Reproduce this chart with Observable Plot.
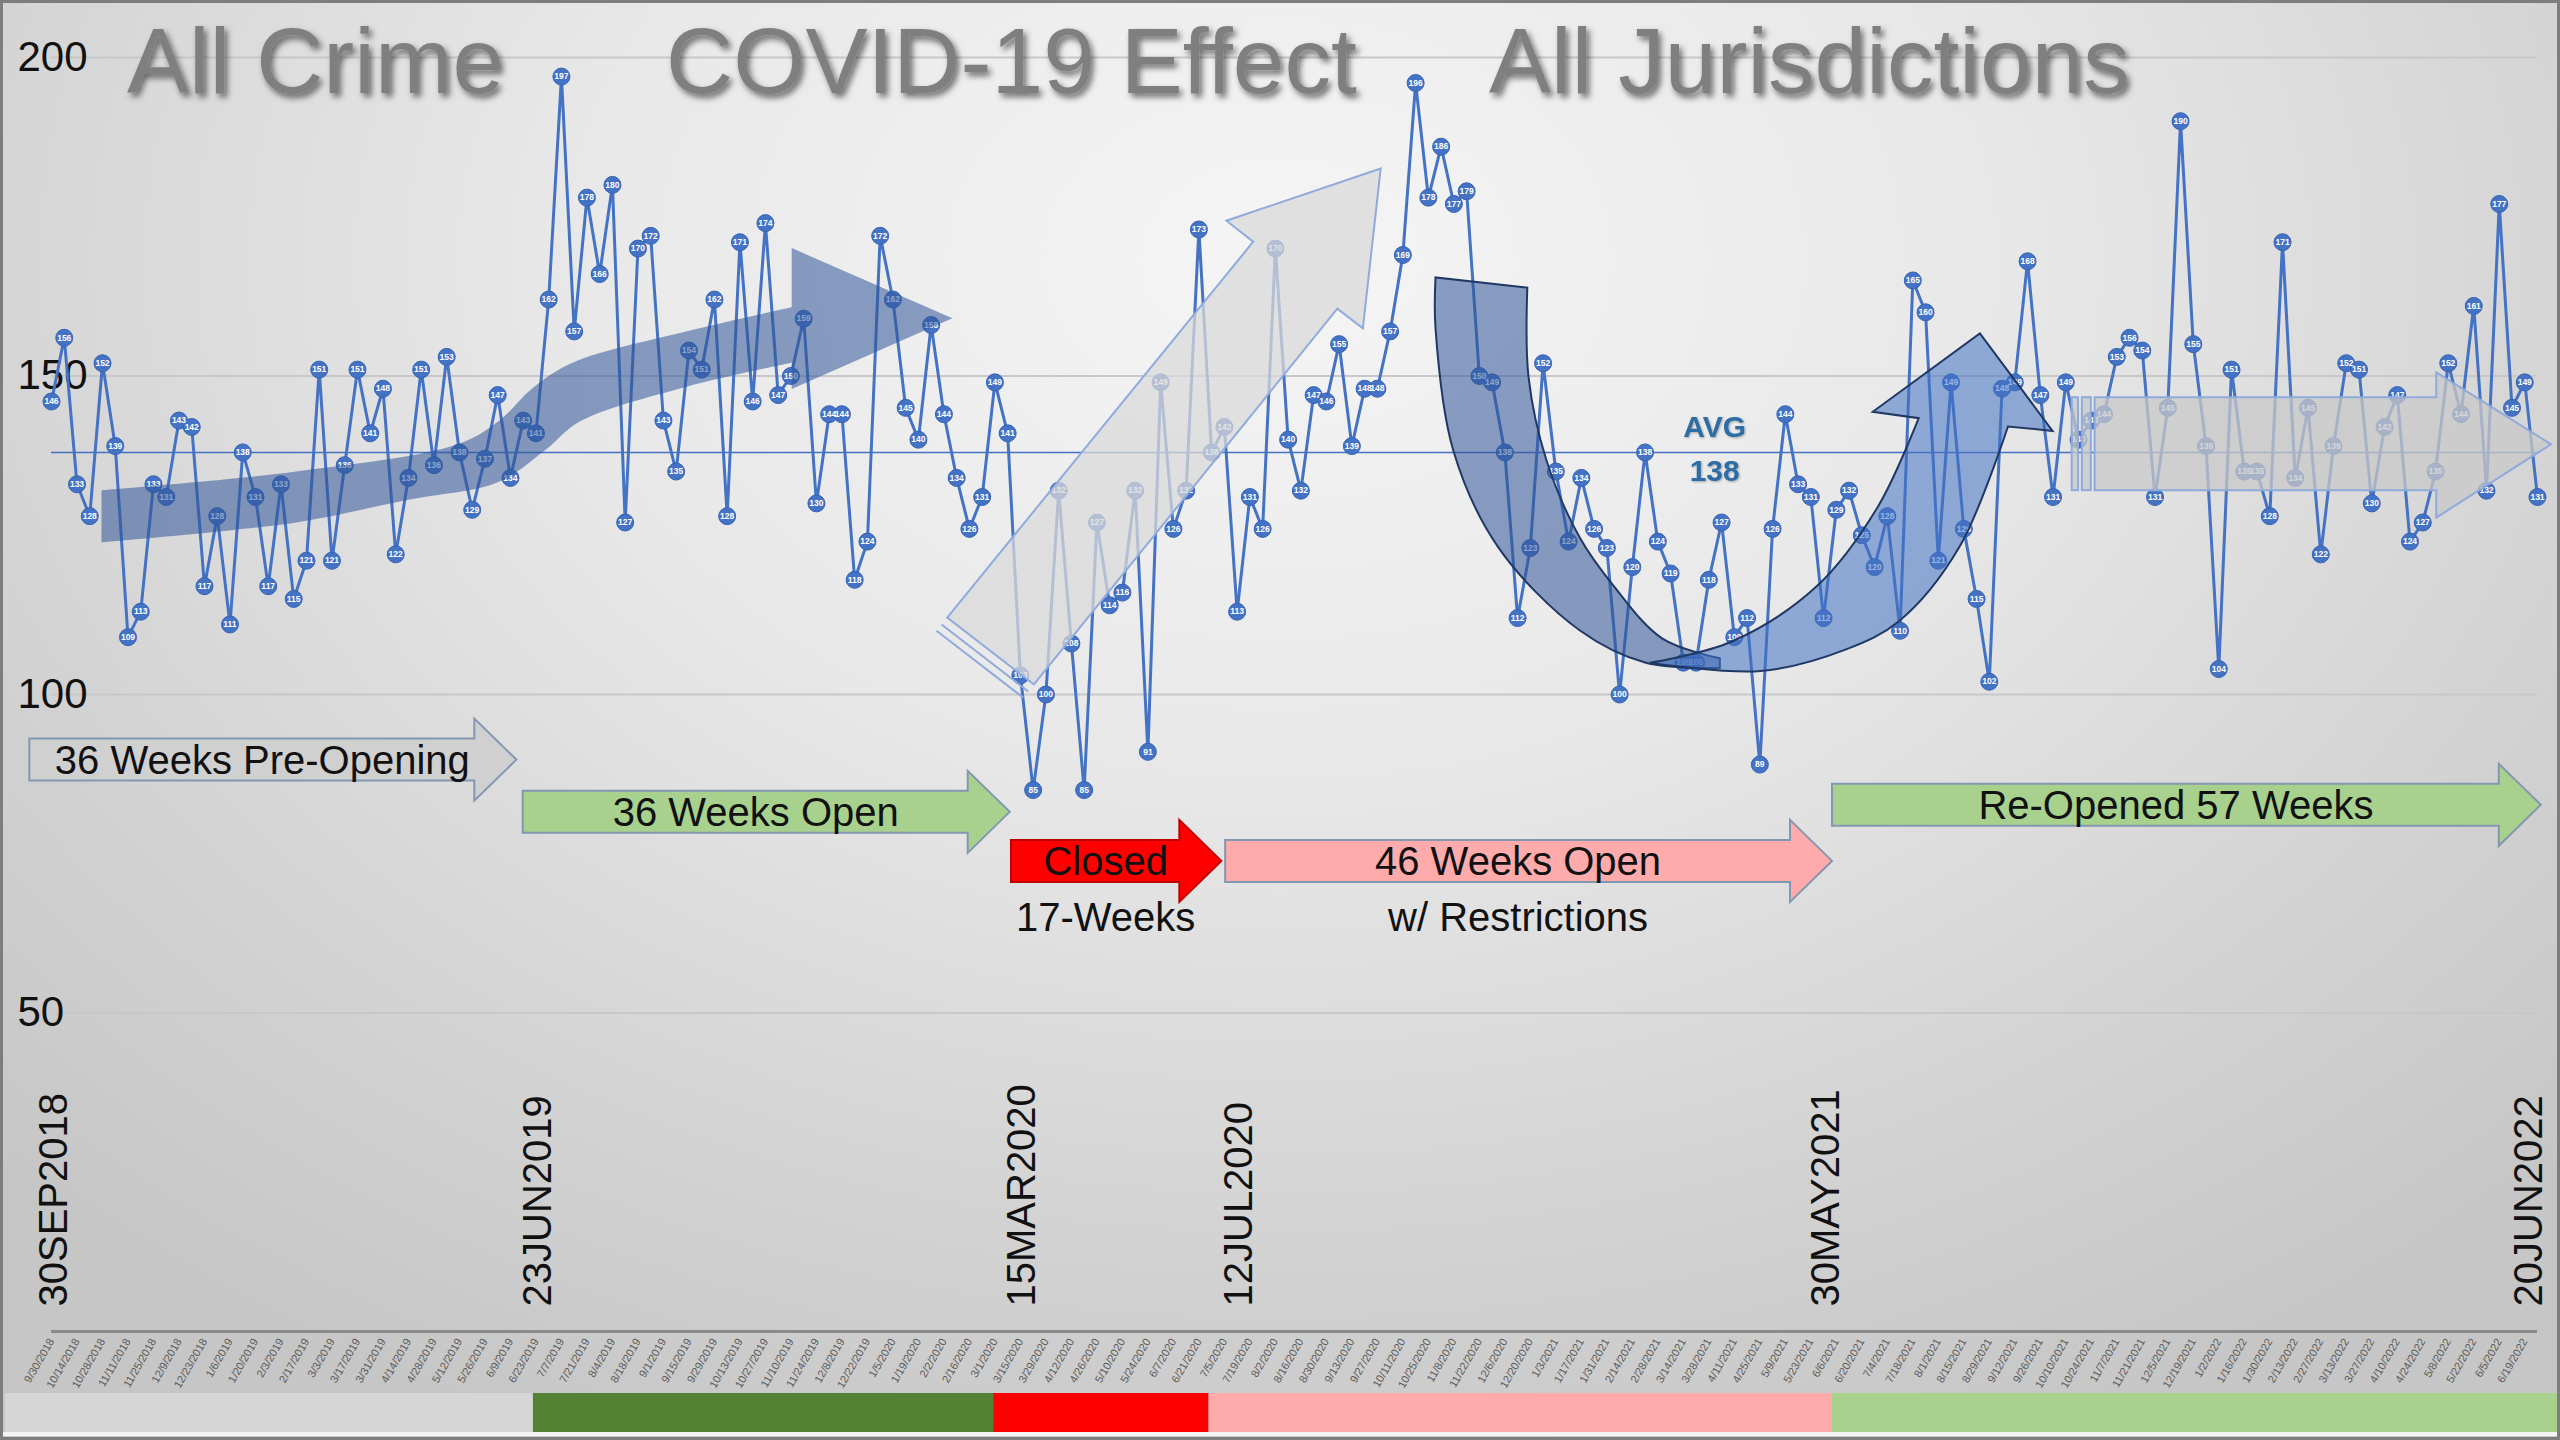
<!DOCTYPE html>
<html><head><meta charset="utf-8">
<script src="https://cdn.jsdelivr.net/npm/d3@7"></script>
<script src="https://cdn.jsdelivr.net/npm/@observablehq/plot@0.6"></script>
<style>
html,body{margin:0;padding:0;}
body{width:2560px;height:1440px;overflow:hidden;background:#d4d4d4;}
#wrap{position:relative;width:2560px;height:1440px;
 background: radial-gradient(ellipse 70% 90% at 50% 18%, #f5f5f5 0%, #e8e8e8 40%, #d3d3d3 75%, #c6c6c6 100%);}
#frame{position:absolute;left:0;top:0;width:2560px;height:1440px;box-sizing:border-box;border:3px solid #7d7d7d;pointer-events:none;}
svg{display:block;}
</style></head><body><div id="wrap"><div id="frame"></div></div>
<script>
// ---------- data ----------
const startDate = "2018-09-30";           // first weekly observation
const crimeCounts = [
146,156,133,128,152,139,109,113,133,131,
143,142,117,128,111,138,131,117,133,115,
121,151,121,136,151,141,148,122,134,151,
136,153,138,129,137,147,134,143,141,162,
197,157,178,166,180,127,170,172,143,135,
154,151,162,128,171,146,174,147,150,159,
130,144,144,118,124,172,162,145,140,158,
144,134,126,131,149,141,103,85,100,132,
108,85,127,114,116,132,91,149,126,132,
173,138,142,113,131,126,170,140,132,147,
146,155,139,148,148,157,169,196,178,186,
177,179,150,149,138,112,123,152,135,124,
134,126,123,100,120,138,124,119,105,105,
118,127,109,112,89,126,144,133,131,112,
129,132,125,120,128,110,165,160,121,149,
126,115,102,148,149,168,147,131,149,140,
143,144,153,156,154,131,145,190,155,139,
104,151,135,135,128,171,134,145,122,139,
152,151,130,142,147,124,127,135,152,144,
161,132,177,145,149,131
];
const avgValue = 138;
const avgLabelWeek = 130.5;
const yTicks = [50, 100, 150, 200];
const titleParts = ["All Crime", "COVID-19 Effect", "All Jurisdictions"];
const milestoneLabels = ["30SEP2018", "23JUN2019", "15MAR2020", "12JUL2020", "30MAY2021", "20JUN2022"];
const milestoneDates = ["2018-09-30", "2019-06-23", "2020-03-15", "2020-07-12", "2021-05-30", "2022-06-20"];

// phase arrows (weeks since start, level in chart units)
const phaseText = ["36 Weeks Pre-Opening", "36 Weeks Open", "Closed", "46 Weeks Open", "Re-Opened 57 Weeks"];
const phaseSubText = ["", "", "17-Weeks", "w/ Restrictions", ""];
const phaseStartWeek = [-1.7, 37.0, 75.3, 92.1, 139.7];
const phaseEndWeek = [36.5, 75.2, 91.8, 139.7, 195.3];
const phaseLevel = [89.7, 81.5, 73.8, 73.8, 82.6];
// bottom status band boundaries (weeks since start)
const bandBoundaryWeeks = [37.8, 73.9, 90.8, 139.7];

// trend overlay shapes: [week, level]  (edge / head / edge)
const risingUpper = [[3.96,132.0],[19.1,134.9],[31.9,139.2],[35.1,142.8],[37.7,147.9],[40.9,152.0],[49.8,156.9],[58.1,160.7]];
const risingHead = [[58.1,170.0],[70.7,159.0],[58.1,147.9]];
const risingLower = [[58.1,152.0],[49.8,148.2],[41.5,142.8],[38.9,138.5],[35.1,133.3],[28.0,130.5],[19.1,126.9],[3.96,123.8]];
const reboundArrow = [[70.3,112.0],[94.3,171.0],[92.2,174.3],[104.3,182.5],[102.9,157.4],[100.9,160.5],[77.1,101.5]];
const dropOuter = [[108.6,165.4],[108.6,157.4],[110.0,138.2],[113.5,123.1],[119.9,110.0],[125.1,104.9],[130.9,104.1]];
const dropInner = [[130.9,105.6],[126.4,108.7],[122.6,116.9],[119.9,124.6],[117.3,136.7],[115.9,149.7],[115.8,163.8]];
const recoverOuter = [[125.4,104.9],[134.1,103.6],[140.8,107.0],[145.0,111.5],[149.7,123.1],[153.5,142.0]];
const recoverHead = [[157.0,141.3],[151.3,156.6],[142.9,144.3]];
const recoverInner = [[146.5,143.3],[143.3,129.4],[138.5,116.9],[131.8,108.2],[125.4,104.9]];
const flatArrow = [[160.3,146.6],[187.1,146.6],[187.1,150.5],[196.1,139.2],[187.1,127.7],[187.1,132.0],[160.3,132.0]];
const flatStripes = [[158.5,159.0],[159.3,160.0]];

// ---------- styles ----------
const FONT = "'Liberation Sans', Arial, sans-serif";
const BLUE = "#4472c4";
const phaseStyle = [
  {fill: "#d0d0d0", stroke: "#8497b0"},
  {fill: "#a9d18e", stroke: "#8497b0"},
  {fill: "#ff0000", stroke: "#c00000"},
  {fill: "#ffabab", stroke: "#8497b0"},
  {fill: "#a9d18e", stroke: "#8497b0"}
];
const bandColors = ["#d6d6d6", "#548235", "#ff0000", "#ffabab", "#a9d18e"];

// ---------- build ----------
const t0 = new Date(startDate + "T00:00:00Z").getTime();
const weekDate = w => new Date(t0 + w * 7 * 864e5);
const parseDate = s => new Date(s + "T00:00:00Z");
const rows = crimeCounts.map((v, i) => ({date: weekDate(i), value: v}));
const tickDates = rows.filter((d, i) => i % 2 === 0).map(d => d.date);
const milestones = milestoneLabels.map((l, i) => ({label: l, date: parseDate(milestoneDates[i])}));

const W = 2560, H = 1440;
const chart = Plot.plot({
  width: W, height: H,
  marginLeft: 51, marginRight: 23, marginTop: 57, marginBottom: 109,
  style: {background: "transparent", fontFamily: FONT, overflow: "visible"},
  x: {type: "utc", domain: [weekDate(0), weekDate(crimeCounts.length - 1)], axis: null},
  y: {domain: [0, 200], axis: null},
  marks: [
    Plot.ruleY(yTicks, {stroke: "#c8c8c8", strokeWidth: 2}),
    Plot.ruleY([avgValue], {stroke: BLUE, strokeWidth: 1.5}),
    Plot.ruleY([0], {stroke: "#8a8a8a", strokeWidth: 3}),
    Plot.axisX({ticks: tickDates, tickFormat: d3.utcFormat("%-m/%-d/%Y"), tickRotate: -60, tickSize: 0, tickPadding: 8, fontSize: 11, color: "#5a5a5a", label: null}),
    Plot.text(yTicks, {y: d => d, frameAnchor: "left", textAnchor: "start", dx: -34, fontSize: 42, fill: "#111"}),
    Plot.text(milestones, {x: "date", text: "label", frameAnchor: "bottom", rotate: -90, textAnchor: "start", dx: 15, dy: -25, fontSize: 40, fill: "#111"}),
    Plot.line(rows, {x: "date", y: "value", stroke: BLUE, strokeWidth: 3}),
    Plot.dot(rows, {x: "date", y: "value", r: 8.5, fill: BLUE, stroke: "#3563b5", strokeWidth: 1}),
    Plot.text(rows, {x: "date", y: "value", text: d => String(d.value), fill: "white", fontSize: 8.5, fontWeight: "bold"}),
  ]
});
document.getElementById("wrap").appendChild(chart);

const svg = d3.select(chart);
const xs = chart.scale("x"), ys = chart.scale("y");
const X = w => xs.apply(weekDate(w));
const Y = v => ys.apply(v);
const poly = pts => d3.line().x(p => X(p[0])).y(p => Y(p[1])).curve(d3.curveLinearClosed)(pts);
const smooth = pts => d3.line().x(p => X(p[0])).y(p => Y(p[1])).curve(d3.curveCatmullRom.alpha(0.5))(pts);
const straight = pts => pts.map(p => `L${X(p[0])},${Y(p[1])}`).join("");
const shape = (edgeA, head, edgeB) => smooth(edgeA) + straight(head) + "L" + smooth(edgeB).slice(1) + "Z";

const defs = svg.append("defs");
const f = defs.append("filter").attr("id", "tshadow").attr("x", "-10%").attr("y", "-20%").attr("width", "130%").attr("height", "150%");
f.append("feDropShadow").attr("dx", 3).attr("dy", 4).attr("stdDeviation", 3).attr("flood-color", "#000").attr("flood-opacity", 0.55);
const f2 = defs.append("filter").attr("id", "sshadow");
f2.append("feDropShadow").attr("dx", 1).attr("dy", 1).attr("stdDeviation", 1).attr("flood-color", "#000").attr("flood-opacity", 0.3);

const g = svg.append("g").attr("text-anchor", "start");
// overlay trend shapes
g.append("path").attr("d", shape(risingUpper, risingHead, risingLower)).attr("fill", "#2f5597").attr("fill-opacity", 0.55);
g.append("path").attr("d", poly(reboundArrow)).attr("fill", "#dadada").attr("fill-opacity", 0.75).attr("stroke", "#8faadc").attr("stroke-width", 2);
{
  const bx1 = X(reboundArrow[0][0]), by1 = Y(reboundArrow[0][1]);
  const bx2 = X(reboundArrow[6][0]), by2 = Y(reboundArrow[6][1]);
  const dx = X(reboundArrow[1][0]) - bx1, dy = Y(reboundArrow[1][1]) - by1;
  const L = Math.hypot(dx, dy), ux = dx / L, uy = dy / L;
  [9, 17].forEach(k => g.append("line").attr("x1", bx1 - k * ux).attr("y1", by1 - k * uy).attr("x2", bx2 - k * ux).attr("y2", by2 - k * uy).attr("stroke", "#8faadc").attr("stroke-width", 2));
}
g.append("path").attr("d", shape(dropOuter, [], dropInner)).attr("fill", "#2f5597").attr("fill-opacity", 0.55).attr("stroke", "#203864").attr("stroke-width", 2);
g.append("path").attr("d", shape(recoverOuter, recoverHead, recoverInner)).attr("fill", BLUE).attr("fill-opacity", 0.55).attr("stroke", "#203864").attr("stroke-width", 2);
g.append("path").attr("d", poly(flatArrow)).attr("fill", "#c8c8c8").attr("fill-opacity", 0.75).attr("stroke", "#8faadc").attr("stroke-width", 2);
flatStripes.forEach(s => g.append("rect").attr("x", X(s[0])).attr("width", X(s[1]) - X(s[0])).attr("y", Y(flatArrow[0][1])).attr("height", Y(flatArrow[6][1]) - Y(flatArrow[0][1])).attr("fill", "#c8c8c8").attr("fill-opacity", 0.75).attr("stroke", "#8faadc").attr("stroke-width", 2));

// AVG label
const avgT = g.append("text").attr("text-anchor", "middle").attr("font-family", FONT).attr("font-size", 30).attr("font-weight", 600).attr("fill", "#2e6da4").attr("filter", "url(#sshadow)");
avgT.append("tspan").attr("x", X(avgLabelWeek)).attr("y", Y(avgValue) - 15).text("AVG");
avgT.append("tspan").attr("x", X(avgLabelWeek)).attr("y", Y(avgValue) + 29).text(String(avgValue));

// phase arrows
const BH = 21, HH = 41, HL = 42;
phaseText.forEach((t, i) => {
  const x1 = X(phaseStartWeek[i]), x2 = X(phaseEndWeek[i]), yc = Y(phaseLevel[i]), xh = x2 - HL;
  const st = phaseStyle[i];
  g.append("path").attr("d", `M${x1},${yc-BH}L${xh},${yc-BH}L${xh},${yc-HH}L${x2},${yc}L${xh},${yc+HH}L${xh},${yc+BH}L${x1},${yc+BH}Z`)
    .attr("fill", st.fill).attr("stroke", st.stroke).attr("stroke-width", 2);
  const cx = (x1 + x2) / 2 - HL / 4;
  g.append("text").attr("x", cx).attr("y", yc).attr("dy", "0.35em").attr("text-anchor", "middle")
    .attr("font-family", FONT).attr("font-size", 40).attr("fill", "#111").text(t);
  if (phaseSubText[i]) g.append("text").attr("x", cx).attr("y", yc + 56).attr("dy", "0.35em").attr("text-anchor", "middle")
    .attr("font-family", FONT).attr("font-size", 40).attr("fill", "#111").text(phaseSubText[i]);
});

// bottom status band
const edges = [5, ...bandBoundaryWeeks.map(X), W - 3];
bandColors.forEach((c, i) => g.append("rect").attr("x", edges[i]).attr("width", edges[i + 1] - edges[i]).attr("y", H - 47).attr("height", 39).attr("fill", c));
g.append("rect").attr("x", 3).attr("width", W - 6).attr("y", H - 8).attr("height", 4).attr("fill", "#f4f4f4");

// title
const titleX = [127, 666, 1489];
titleParts.forEach((t, i) => g.append("text").attr("x", titleX[i]).attr("y", 93).attr("text-anchor", "start").attr("font-family", FONT).attr("font-size", 93)
  .attr("fill", "#7f7f7f").attr("filter", "url(#tshadow)").text(t));
</script>
</body></html>
